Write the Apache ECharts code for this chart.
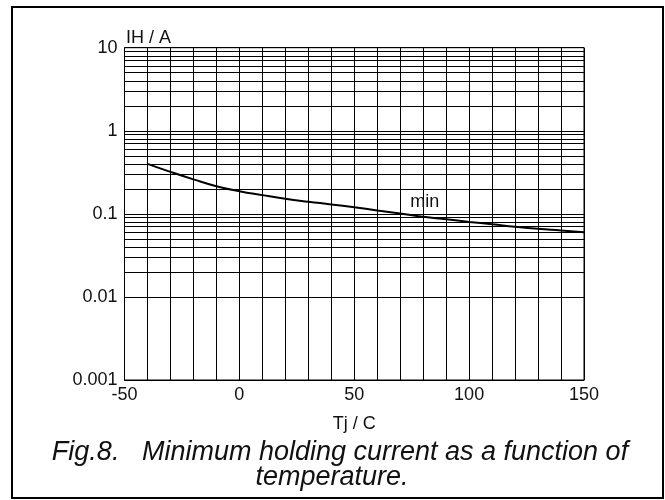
<!DOCTYPE html>
<html><head><meta charset="utf-8">
<script src="https://cdn.jsdelivr.net/npm/echarts@6/dist/echarts.min.js"></script>
<style>html,body{margin:0;padding:0;background:#fff}#c{width:665px;height:500px}</style>
</head><body><div id="c"></div>
<script>
var temps = [-40,-30,-20,-10,0,10,20,30,40,50,60,70,80,90,100,110,120,130,140,150];
var ihMin = [0.40,0.32,0.26,0.215,0.187,0.168,0.152,0.140,0.130,0.120,0.110,0.101,0.092,0.086,0.080,0.075,0.070,0.066,0.063,0.060];
var yDecades = [0.001,0.01,0.1,1,10];
var xLabels = [-50,0,50,100,150];
var FONT = '"Liberation Sans", Arial, sans-serif';

var minorY = [];
for (var d = 0; d < yDecades.length - 1; d++) {
  for (var k = 2; k <= 9; k++) minorY.push({yAxis: +(k * yDecades[d]).toPrecision(3)});
}

var chart = echarts.init(document.getElementById('c'), null, {renderer: 'canvas'});
chart.setOption({
  animation: false,
  backgroundColor: '#fff',
  grid: {left: 124.5, right: 81, top: 47.7, bottom: 120, show: true, borderColor: '#000', borderWidth: 1, containLabel: false},
  xAxis: {
    type: 'value', min: -50, max: 150, interval: 10,
    name: 'Tj / C', nameLocation: 'middle', nameGap: 35,
    nameTextStyle: {color: '#111', fontSize: 18, fontFamily: FONT},
    axisLine: {show: true, lineStyle: {color: '#000', width: 1}},
    axisTick: {show: false},
    axisLabel: {color: '#111', fontSize: 18, fontFamily: FONT, margin: 6,
      formatter: function (v) { return xLabels.indexOf(v) >= 0 ? String(v) : ''; }},
    splitLine: {show: true, lineStyle: {color: '#000', width: 1}}
  },
  yAxis: {
    type: 'log', logBase: 10, min: 0.001, max: 10,
    axisLine: {show: true, lineStyle: {color: '#000', width: 1}},
    axisTick: {show: false},
    axisLabel: {color: '#111', fontSize: 18, fontFamily: FONT, margin: 7,
      formatter: function (v) { return String(+v.toPrecision(3)); }},
    splitLine: {show: true, lineStyle: {color: '#000', width: 1}}
  },
  series: [{
    type: 'line', smooth: true, symbol: 'none',
    data: temps.map(function (t, i) { return [t, ihMin[i]]; }),
    lineStyle: {color: '#000', width: 2},
    z: 5,
    markLine: {
      silent: true, symbol: 'none', animation: false,
      label: {show: false},
      lineStyle: {color: '#000', width: 1, type: 'solid'},
      emphasis: {disabled: true},
      data: minorY
    },
    markPoint: {
      symbol: 'circle', symbolSize: 0,
      label: {show: true, formatter: 'min', color: '#111', fontSize: 18, fontFamily: FONT, position: 'inside'},
      data: [{coord: [80.7, 0.138]}]
    }
  }],
  graphic: [
    {type: 'rect', shape: {x: 12, y: 7, width: 651, height: 491}, style: {fill: 'none', stroke: '#000', lineWidth: 2}, silent: true},
    {type: 'text', x: 126, y: 38, style: {text: 'IH / A', font: '18px ' + FONT, fill: '#111', textAlign: 'left', textVerticalAlign: 'middle'}},
    {type: 'text', x: 340, y: 452, style: {text: 'Fig.8.   Minimum holding current as a function of', font: 'italic 27px ' + FONT, fill: '#111', textAlign: 'center', textVerticalAlign: 'middle'}},
    {type: 'text', x: 332, y: 477, style: {text: 'temperature.', font: 'italic 27px ' + FONT, fill: '#111', textAlign: 'center', textVerticalAlign: 'middle'}}
  ]
});
</script></body></html>
